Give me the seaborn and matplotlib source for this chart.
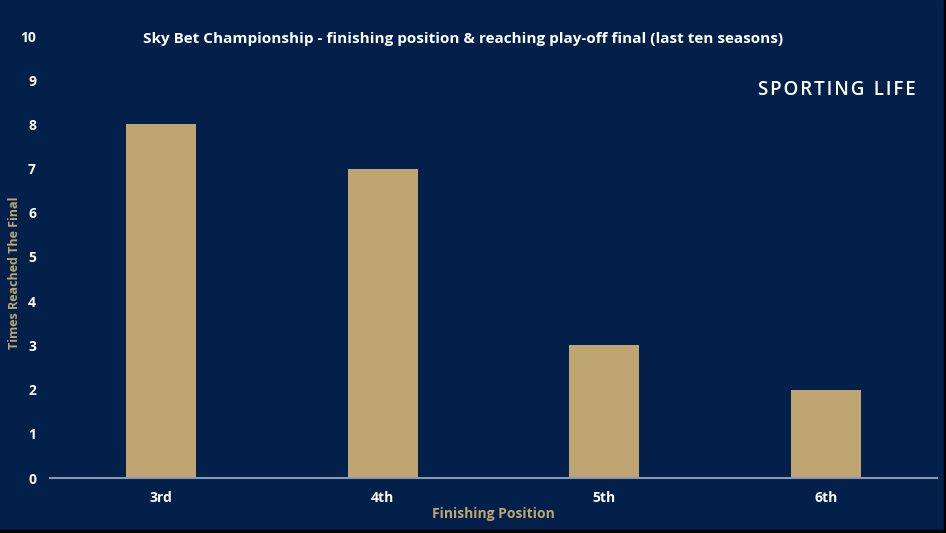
import matplotlib
matplotlib.use("Agg")
import matplotlib.pyplot as plt
import seaborn as sns
from matplotlib.patches import Rectangle
from pandas import DataFrame

positions = ["3rd", "4th", "5th", "6th"]
times_reached = [8, 7, 3, 2]
y_ticks = list(range(0, 11))

BG = "#03204a"
GOLD = "#bfa571"

sns.set_theme(style="white")
plt.rcParams['font.family'] = ['Open Sans', 'DejaVu Sans']

df = DataFrame({"Finishing Position": positions, "Times Reached The Final": times_reached})

fig = plt.figure(figsize=(9.46, 5.33), dpi=100, facecolor=BG)
ax = fig.add_axes([50 / 946, 1 - 478 / 533, 887 / 946, 442 / 533])
ax.set_facecolor(BG)

sns.barplot(data=df, x="Finishing Position", y="Times Reached The Final",
            color=GOLD, width=0.315, saturation=1, edgecolor="none", linewidth=0, ax=ax)

ax.set_ylim(0, 10)
ax.set_xlim(-0.5, 3.5)
ax.set_yticks(y_ticks)
ax.tick_params(axis="both", length=0, colors="white", labelsize=10)
ax.tick_params(axis="y", pad=10)
ax.tick_params(axis="x", pad=9)
for lbl in ax.get_xticklabels() + ax.get_yticklabels():
    lbl.set_fontweight("bold")
    lbl.set_color("white")

for s in ["top", "right", "left"]:
    ax.spines[s].set_visible(False)
ax.spines["bottom"].set_color("#8a96b4")
ax.spines["bottom"].set_linewidth(1.5)

ax.set_xlabel("Finishing Position", color=GOLD, fontsize=10, fontweight="bold", labelpad=2)
ax.set_ylabel("")
fig.text(15 / 946, 1 - 273 / 533, "Times Reached The Final", rotation=90, color=GOLD,
         fontsize=9, fontweight="bold", ha="center", va="center")

fig.text(463 / 946, 1 - 39 / 533,
         "Sky Bet Championship - finishing position & reaching play-off final (last ten seasons)",
         color="white", fontsize=11, fontweight="bold", ha="center", va="center")
brand = "\u200a".join("SPORTING") + "\u2002" + "\u200a".join("LIFE")
fig.text(837 / 946, 1 - 90 / 533, brand, color="white", fontsize=13.5,
         fontweight="semibold", ha="center", va="center")

# thin black border along the bottom and right edge
fig.add_artist(Rectangle((0, 0), 1, 3 / 533, transform=fig.transFigure, color="black", zorder=10))
fig.add_artist(Rectangle((1 - 2 / 946, 0), 2 / 946, 1, transform=fig.transFigure, color="black", zorder=10))

fig.savefig("out.png", dpi=100, facecolor=BG)
